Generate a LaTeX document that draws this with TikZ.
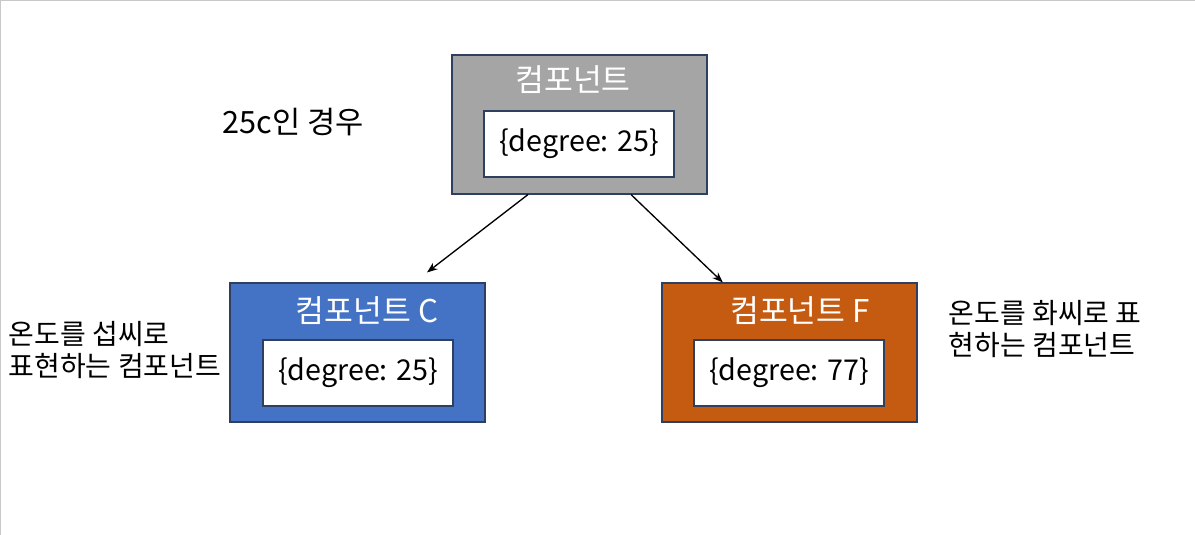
\documentclass[tikz,border=0pt]{standalone}
\usepackage{fontspec}
\setmainfont{Noto Sans CJK KR}
\usetikzlibrary{arrows.meta}

\definecolor{boxgray}{HTML}{A5A5A5}
\definecolor{boxblue}{HTML}{4472C4}
\definecolor{boxorange}{HTML}{C55A11}
\definecolor{edgenavy}{HTML}{2F3F60}
\definecolor{framegray}{HTML}{C8C8C8}

\tikzset{
    compbox/.style={draw=edgenavy, line width=0.8pt, minimum width=191.25pt, minimum height=104.25pt, inner sep=0pt},
    statebox/.style={draw=edgenavy, fill=white, line width=0.8pt, minimum width=142.5pt, minimum height=49.5pt, font=\fontsize{21.5}{24}\selectfont},
    comptitle/.style={text=white, font=\fontsize{23.5}{26}\selectfont},
    note/.style={font=\fontsize{21}{24}\selectfont, align=left, anchor=west},
    flow/.style={-{Stealth[length=8pt,width=6pt]}, line width=1pt},
}

\begin{document}
\begin{tikzpicture}[x=0.75pt, y=-0.75pt]
    \useasboundingbox (0,0) rectangle (1195,535);
    % page frame
    \draw[framegray, line width=1pt] (0.5,535) -- (0.5,0.5) -- (1195,0.5);

    % parent component
    \node[compbox, fill=boxgray] (top) at (579.5,124.5) {};
    \node[comptitle] (toptitle) at (573,80) {컴포넌트};
    \node[statebox] (topstate) at (579,144) {\{degree: 25\}};
    \node[font=\fontsize{23}{26}\selectfont] (case) at (293,122) {25c인 경우};

    % celsius component
    \node[compbox, fill=boxblue] (cbox) at (357.5,352.5) {};
    \node[comptitle] (ctitle) at (367,311) {컴포넌트 C};
    \node[statebox] (cstate) at (358,373) {\{degree: 25\}};

    % fahrenheit component
    \node[compbox, fill=boxorange] (fbox) at (789.5,352.5) {};
    \node[comptitle] (ftitle) at (800,311) {컴포넌트 F};
    \node[statebox] (fstate) at (789,373) {\{degree: 77\}};

    % side notes
    \node[note] (cnote) at (4,350) {온도를 섭씨로\\표현하는 컴포넌트};
    \node[note] (fnote) at (944,329.5) {온도를 화씨로 표\\현하는 컴포넌트};

    % props flow
    \draw[flow] ([xshift=-38.6pt]top.south) -- ([xshift=52.1pt, yshift=7.5pt]cbox.north);
    \draw[flow] ([xshift=38.6pt]top.south) -- ([xshift=-50pt]fbox.north);
\end{tikzpicture}
\end{document}
